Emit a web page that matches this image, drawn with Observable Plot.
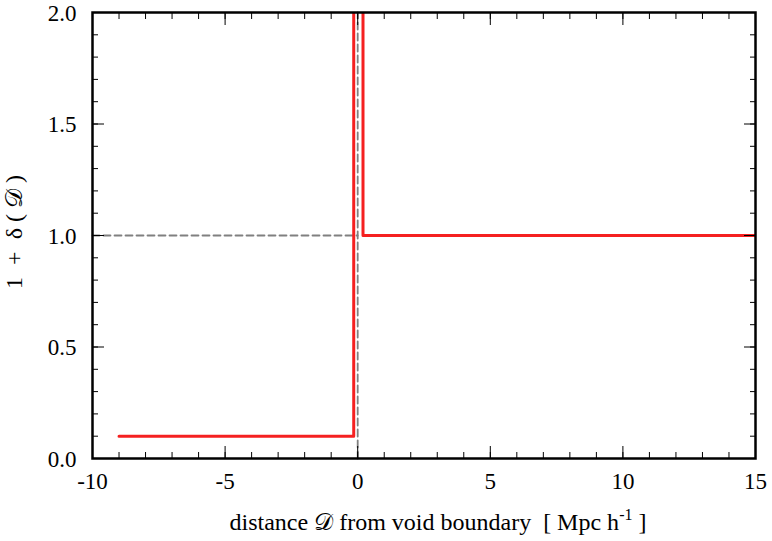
<!DOCTYPE html>
<html><head><meta charset="utf-8">
<script src="https://cdn.jsdelivr.net/npm/d3@7"></script>
<script src="https://cdn.jsdelivr.net/npm/@observablehq/plot@0.6"></script>
<style>
body{margin:0;background:#fff;}
#chart{position:relative;width:772px;height:541px;}
</style></head><body><div id="chart"></div>
<script>
// red profile (step) in distance units
const profileX = [-9, -0.15, -0.15, 0.2, 0.2, 15];
const profileY = [0.1, 0.1, 2.3, 2.3, 1, 1];
// gray dashed reference lines
const refHX = [-10, 0];
const refHY = [1, 1];
const refVX = [0, 0];
const refVY = [0, 2];
const xTicks = [-10, -5, 0, 5, 10, 15];
const yTicks = [0, 0.5, 1, 1.5, 2];
const xTickLabels = ["-10", "-5", "0", "5", "10", "15"];
const yTickLabels = ["0.0", "0.5", "1.0", "1.5", "2.0"];
const xMinor = d3.range(-10, 15.01, 1);
const yMinor = d3.range(0, 2.001, 0.1);

const profile = profileX.map((x, i) => ({x, y: profileY[i]}));
const refH = refHX.map((x, i) => ({x, y: refHY[i]}));
const refV = refVX.map((x, i) => ({x, y: refVY[i]}));

const font = "'Liberation Serif', 'Times New Roman', Times, serif";
const plot = Plot.plot({
  width: 772, height: 541,
  marginLeft: 92, marginRight: 17, marginTop: 12, marginBottom: 83,
  style: {fontSize: "23px", fontFamily: font, color: "black", background: "white"},
  x: {domain: [-10, 15], label: null},
  y: {domain: [0, 2], label: null},
  marks: [
    Plot.line(refH, {x: "x", y: "y", stroke: "#808080", strokeWidth: 1.8, strokeDasharray: "7,4"}),
    Plot.line(refV, {x: "x", y: "y", stroke: "#808080", strokeWidth: 1.8, strokeDasharray: "7,4"}),
    Plot.line(profile, {x: "x", y: "y", stroke: "#f52020", strokeWidth: 3, clip: true}),
    // inward ticks
    Plot.axisX({anchor: "bottom", ticks: xMinor, tickSize: -6, tickWidth: 2, text: null}),
    Plot.axisX({anchor: "top", ticks: xMinor, tickSize: -6, tickWidth: 2, text: null}),
    Plot.axisX({anchor: "bottom", ticks: xTicks, tickSize: -12, tickWidth: 2, text: null}),
    Plot.axisX({anchor: "top", ticks: xTicks, tickSize: -12, tickWidth: 2, text: null}),
    Plot.axisY({anchor: "left", ticks: yMinor, tickSize: -6, tickWidth: 2, text: null}),
    Plot.axisY({anchor: "right", ticks: yMinor, tickSize: -6, tickWidth: 2, text: null}),
    Plot.axisY({anchor: "left", ticks: yTicks, tickSize: -12, tickWidth: 2, text: null}),
    Plot.axisY({anchor: "right", ticks: yTicks, tickSize: -12, tickWidth: 2, text: null}),
    // tick labels
    Plot.text(xTicks, {x: d => d, frameAnchor: "bottom", dy: 23, lineAnchor: "middle",
      text: (d, i) => xTickLabels[i], fontSize: 23, fontFamily: font, fill: "black"}),
    Plot.text(yTicks, {y: d => d, frameAnchor: "left", dx: -16, dy: 1, textAnchor: "end", lineAnchor: "middle",
      text: (d, i) => yTickLabels[i], fontSize: 23, fontFamily: font, fill: "black"}),
    Plot.frame({stroke: "black", strokeWidth: 2.5})
  ]
});
document.getElementById("chart").appendChild(plot);
const svg = d3.select(plot);
svg.append("text")
  .attr("x", 438).attr("y", 530)
  .attr("text-anchor", "middle")
  .style("font-family", font).style("font-size", "24px")
  .html("distance 𝒟 from void boundary&#160;&#160;[ Mpc h<tspan dy='-10' style='font-size:16px'>-1</tspan><tspan dy='10'> ]</tspan>");
svg.append("text")
  .attr("transform", "translate(22,232) rotate(-90)")
  .attr("text-anchor", "middle")
  .style("font-family", font).style("font-size", "24px")
  .text("1\u00a0\u00a0+\u00a0\u00a0δ\u00a0(\u00a0𝒟\u00a0)");
</script></body></html>
